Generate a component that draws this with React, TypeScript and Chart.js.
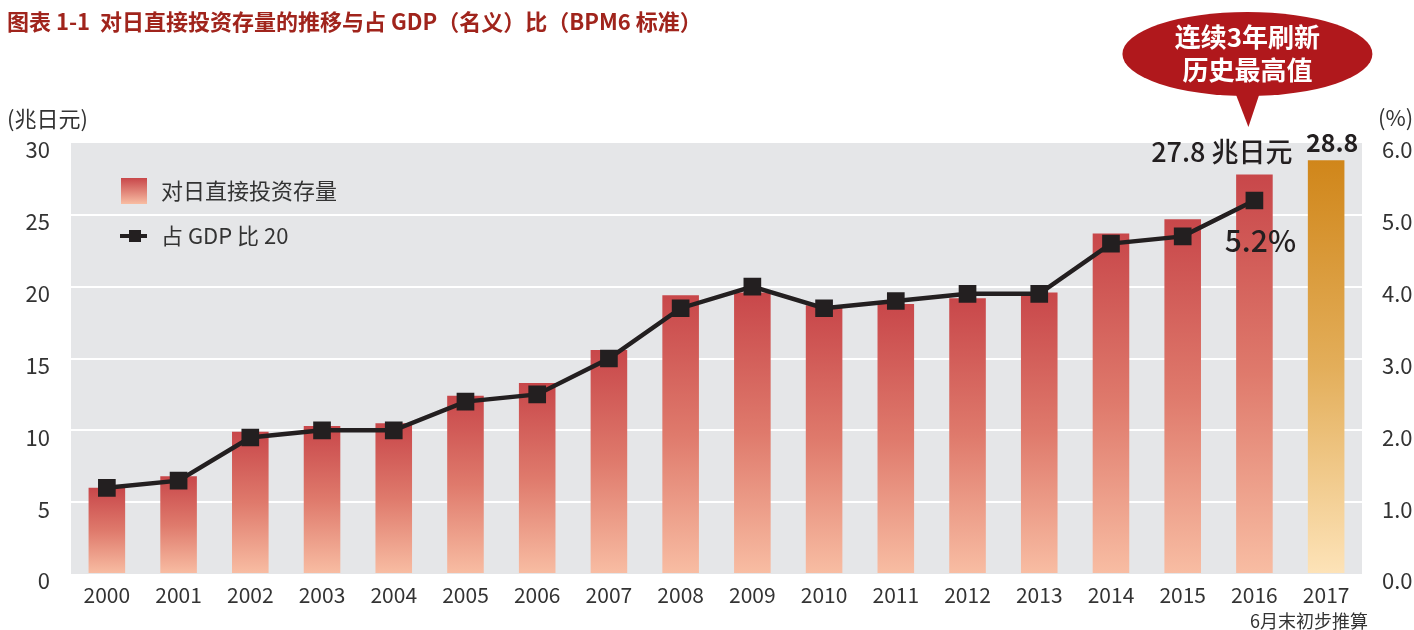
import React, { useEffect, useRef } from "react";
import { Chart, registerables } from "chart.js";

Chart.register(...registerables);

const categories = ["2000", "2001", "2002", "2003", "2004", "2005", "2006", "2007", "2008", "2009", "2010", "2011", "2012", "2013", "2014", "2015", "2016", "2017"];
const stockValues = [6.0, 6.8, 9.9, 10.3, 10.5, 12.4, 13.3, 15.6, 19.4, 19.6, 18.7, 18.8, 19.2, 19.6, 23.7, 24.7, 27.8, 28.8];
const gdpRatio = [1.2, 1.3, 1.9, 2.0, 2.0, 2.4, 2.5, 3.0, 3.7, 4.0, 3.7, 3.8, 3.9, 3.9, 4.6, 4.7, 5.2, null];
const leftTicks = [0, 5, 10, 15, 20, 25, 30];
const rightTicks = [0, 1, 2, 3, 4, 5, 6];

const titleText = "图表 1-1  对日直接投资存量的推移与占 GDP（名义）比（BPM6 标准）";
const stockLabel = "对日直接投资存量";
const ratioLabel = "占 GDP 比 20";
const calloutLines = ["连续3年刷新", "历史最高值"];
const noteText = "6月末初步推算";

const FONT = '"Noto Sans CJK SC", "Noto Sans", sans-serif';
const RED_TOP = "#c8474a";
const RED_MID = "#df7a6c";
const RED_BOT = "#f8bda3";
const GOLD_TOP = "#d0861a";
const GOLD_MID = "#e3ae5a";
const GOLD_BOT = "#fde3b8";

export default function App() {
  const ref = useRef<HTMLCanvasElement>(null);

  useEffect(() => {
    const canvas = ref.current;
    if (!canvas) return;

    const bgPlugin = {
      id: "bg",
      beforeDraw(chart: any) {
        const { ctx, chartArea } = chart;
        ctx.save();
        ctx.fillStyle = "#ffffff";
        ctx.fillRect(0, 0, chart.width, chart.height);
        ctx.fillStyle = "#e5e6e8";
        ctx.fillRect(chartArea.left, chartArea.top, chartArea.right - chartArea.left, chartArea.bottom - chartArea.top);
        ctx.restore();
      },
    };

    const textPlugin = {
      id: "texts",
      afterDraw(chart: any) {
        const { ctx } = chart;
        const x = chart.scales.x;
        const y = chart.scales.y;
        const y1 = chart.scales.y1;
        ctx.save();
        // title
        ctx.fillStyle = "#a0241c";
        ctx.font = `bold 22px ${FONT}`;
        ctx.textBaseline = "middle";
        ctx.textAlign = "left";
        ctx.fillText(titleText, 7, 22);

        // units
        ctx.fillStyle = "#333333";
        ctx.font = `22px ${FONT}`;
        ctx.fillText("(兆日元)", 7, 119);
        ctx.textAlign = "left";
        ctx.fillText("(%)", 1378, 118);

        // note
        ctx.font = `18px ${FONT}`;
        ctx.textAlign = "right";
        ctx.fillText(noteText, 1368, 621);

        // legend
        const lg = ctx.createLinearGradient(0, 178, 0, 204);
        lg.addColorStop(0, RED_TOP);
        lg.addColorStop(1, RED_BOT);
        ctx.fillStyle = lg;
        ctx.fillRect(121, 178, 26, 26);
        ctx.strokeStyle = "#231f20";
        ctx.lineWidth = 4;
        ctx.beginPath();
        ctx.moveTo(120, 236);
        ctx.lineTo(147, 236);
        ctx.stroke();
        ctx.fillStyle = "#231f20";
        ctx.fillRect(129, 230, 12, 12);
        ctx.fillStyle = "#333333";
        ctx.font = `22px ${FONT}`;
        ctx.textAlign = "left";
        ctx.fillText(stockLabel, 161, 191);
        ctx.fillText(ratioLabel, 161, 236);

        // annotations
        const i16 = 16;
        const i17 = 17;
        const bx16 = x.getPixelForValue(i16);
        const bx17 = x.getPixelForValue(i17);
        const top16 = y.getPixelForValue(stockValues[i16]);
        const top17 = y.getPixelForValue(stockValues[i17]);
        ctx.fillStyle = "#231f20";
        ctx.font = `500 27px ${FONT}`;
        ctx.textAlign = "right";
        ctx.textBaseline = "alphabetic";
        ctx.fillText(`${stockValues[i16].toFixed(1)} 兆日元`, bx16 + 38, top16 - 13);
        ctx.font = `600 25px ${FONT}`;
        ctx.textAlign = "center";
        ctx.fillText(stockValues[i17].toFixed(1), bx17 + 6, top17 - 8);
        const ry = y1.getPixelForValue(gdpRatio[i16] as number);
        ctx.font = `500 30px ${FONT}`;
        ctx.textAlign = "center";
        ctx.textBaseline = "middle";
        ctx.fillText(`${(gdpRatio[i16] as number).toFixed(1)}%`, bx16 + 6, ry + 40);

        // callout
        const cx = bx16 - 7;
        ctx.fillStyle = "#b0181c";
        ctx.beginPath();
        ctx.ellipse(cx, 54, 125, 42, 0, 0, Math.PI * 2);
        ctx.fill();
        ctx.beginPath();
        ctx.moveTo(cx - 14, 88);
        ctx.lineTo(cx + 14, 88);
        ctx.lineTo(cx + 1, 127);
        ctx.closePath();
        ctx.fill();
        ctx.fillStyle = "#ffffff";
        ctx.font = `bold 26px ${FONT}`;
        ctx.textAlign = "center";
        ctx.textBaseline = "middle";
        ctx.fillText(calloutLines[0], cx, 37);
        ctx.fillText(calloutLines[1], cx, 70);
        ctx.restore();
      },
    };

    const barColor = (c: any) => {
      const chart = c.chart;
      const idx = c.dataIndex;
      const gold = idx === categories.length - 1;
      if (!chart.chartArea || c.raw == null) return gold ? GOLD_TOP : RED_TOP;
      const yTop = chart.scales.y.getPixelForValue(c.raw);
      const yBot = chart.scales.y.getPixelForValue(0);
      const g = chart.ctx.createLinearGradient(0, yTop, 0, yBot);
      if (gold) {
        g.addColorStop(0, GOLD_TOP);
        g.addColorStop(0.5, GOLD_MID);
        g.addColorStop(1, GOLD_BOT);
      } else {
        g.addColorStop(0, RED_TOP);
        g.addColorStop(0.5, RED_MID);
        g.addColorStop(1, RED_BOT);
      }
      return g;
    };

    const chart = new Chart(canvas, {
      type: "bar",
      data: {
        labels: categories,
        datasets: [
          {
            type: "line",
            label: ratioLabel,
            data: gdpRatio,
            yAxisID: "y1",
            borderColor: "#231f20",
            borderWidth: 4.5,
            pointStyle: "rect",
            pointRadius: 12.5,
            pointBackgroundColor: "#231f20",
            pointBorderColor: "#231f20",
            pointBorderWidth: 0,
            tension: 0,
            spanGaps: false,
            order: 1,
          } as any,
          {
            type: "bar",
            label: stockLabel,
            data: stockValues,
            yAxisID: "y",
            backgroundColor: barColor,
            barPercentage: 0.51,
            categoryPercentage: 1,
            order: 2,
          } as any,
        ],
      },
      options: {
        responsive: false,
        animation: false,
        layout: { padding: { top: 143, left: 0, right: 0, bottom: 0 } },
        plugins: { legend: { display: false }, title: { display: false }, tooltip: { enabled: false } },
        scales: {
          x: {
            grid: { display: false, drawTicks: false },
            border: { display: false },
            ticks: { color: "#333333", font: { family: FONT, size: 21 }, padding: 8, maxRotation: 0, autoSkip: false },
            afterFit: (s: any) => { s.height = 56; },
          },
          y: {
            position: "left",
            min: 0,
            max: 30,
            afterBuildTicks: (s: any) => { s.ticks = leftTicks.map((v) => ({ value: v })); },
            grid: {
              drawTicks: false,
              lineWidth: 2,
              color: (c: any) => (c.tick && (c.tick.value === 0 || c.tick.value === 30) ? "rgba(0,0,0,0)" : "#ffffff"),
            },
            border: { display: false },
            ticks: { color: "#333333", font: { family: FONT, size: 22 }, padding: 21, labelOffset: 7 } as any,
            afterFit: (s: any) => { s.width = 71; },
          },
          y1: {
            position: "right",
            min: 0,
            max: 6,
            afterBuildTicks: (s: any) => { s.ticks = rightTicks.map((v) => ({ value: v })); },
            grid: { display: false, drawTicks: false },
            border: { display: false },
            ticks: {
              color: "#333333",
              font: { family: FONT, size: 22 },
              padding: 20,
              labelOffset: 7,
              callback: (v: any) => Number(v).toFixed(1),
            } as any,
            afterFit: (s: any) => { s.width = 52; },
          },
        },
      },
      plugins: [bgPlugin, textPlugin],
    });

    return () => chart.destroy();
  }, []);

  return (
    <div style={{ position: "absolute", left: 0, top: 0, width: 1414, height: 630 }}>
      <canvas ref={ref} width={1414} height={630} style={{ width: 1414, height: 630, display: "block" }} />
    </div>
  );
}
